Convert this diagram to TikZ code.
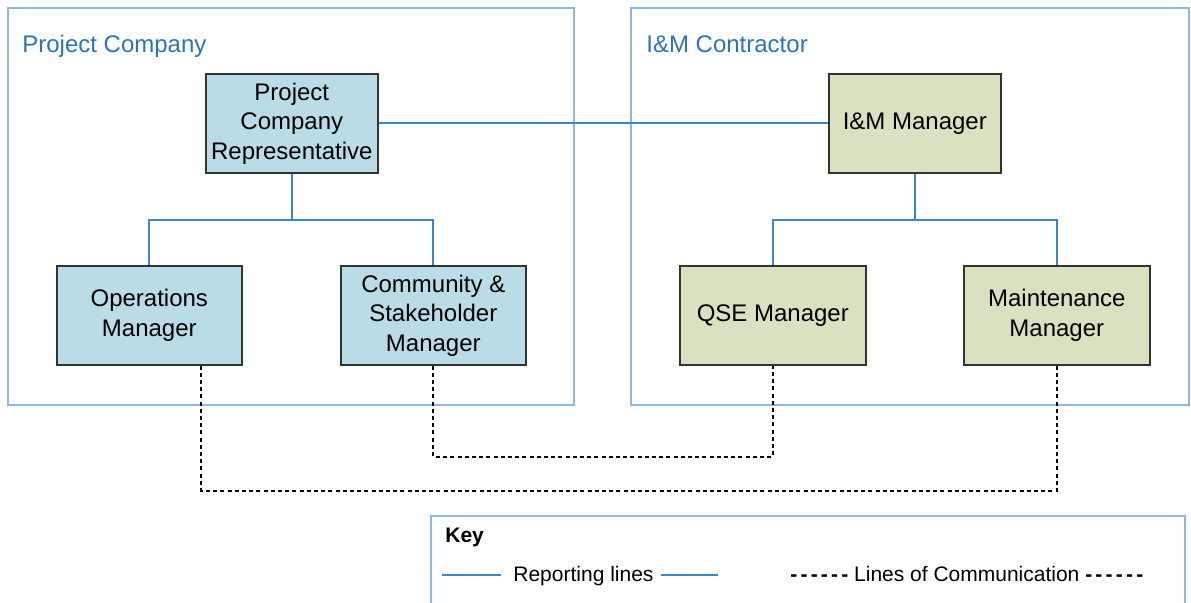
\documentclass[tikz,border=0pt]{standalone}
\usepackage{fontspec}
\setmainfont{Liberation Sans}
\definecolor{groupline}{HTML}{8FB8DE}
\definecolor{grouptext}{HTML}{2E74B5}
\definecolor{report}{HTML}{3A86C8}
\definecolor{pcfill}{HTML}{B9DCE6}
\definecolor{imfill}{HTML}{D8E2C0}
\definecolor{boxline}{HTML}{333333}
% a run of hyphens kept apart so they are not joined into dashes
\newcommand\hyphenrun{\textbf{-\kern1.6pt-\kern1.6pt-\kern1.6pt-\kern1.6pt-\kern1.6pt-}}
\tikzset{
  group/.style={draw=groupline, line width=0.6pt},
  grouptitle/.style={anchor=base west, text=grouptext, inner sep=0pt, font=\fontsize{12}{14.75}\selectfont},
  role/.style={draw=boxline, line width=0.8pt, anchor=north west, inner sep=0pt,
    align=center, font=\fontsize{12}{14.75}\selectfont},
  pcrole/.style={role, fill=pcfill},
  imrole/.style={role, fill=imfill},
  keytext/.style={anchor=base west, inner sep=0pt, font=\fontsize{10.5}{13}\selectfont},
  reporting/.style={draw=report, line width=1pt},
  communication/.style={draw=black, line width=1pt, dash pattern=on 2pt off 1.6pt},
}
\begin{document}
\begin{tikzpicture}[x=0.5pt, y=-0.5pt]
  \clip (0,0) rectangle (1191,602);
  \fill[white] (0,0) rectangle (1191,602);

  % organisation groups
  \draw[group] (8,8) rectangle (574,405);
  \draw[group] (631,8) rectangle (1189,405);
  \node[grouptitle] (pctitle) at (22,52) {Project Company};
  \node[grouptitle] (imtitle) at (646,52) {I\&M Contractor};

  % roles
  \node[pcrole, minimum width=86pt, minimum height=49.5pt] (pcr) at (205,73)
    {Project\\Company\\Representative};
  \node[pcrole, minimum width=92.5pt, minimum height=49.5pt] (ops) at (56,265)
    {Operations\\Manager};
  \node[pcrole, minimum width=92.5pt, minimum height=49.5pt] (csm) at (340,265)
    {Community \&\\Stakeholder\\Manager};
  \node[imrole, minimum width=86pt, minimum height=49.5pt] (imm) at (828,73)
    {I\&M Manager};
  \node[imrole, minimum width=93pt, minimum height=49.5pt] (qse) at (679,265)
    {QSE Manager};
  \node[imrole, minimum width=93pt, minimum height=49.5pt] (mnt) at (963,265)
    {Maintenance\\Manager};

  % reporting lines
  \draw[reporting] (pcr.east) -- (imm.west);
  \draw[reporting] (pcr.south) -- ++(0,46) -| (ops.north);
  \draw[reporting] (pcr.south) ++(0,46) -| (csm.north);
  \draw[reporting] (imm.south) -- ++(0,46) -| (qse.north);
  \draw[reporting] (imm.south) ++(0,46) -| (mnt.north);

  % lines of communication
  \coordinate (opsout) at ([xshift=26pt]ops.south);
  \draw[communication] (csm.south) -- ++(0,91) -| (qse.south);
  \draw[communication] (opsout) -- ++(0,125) -| (mnt.south);

  % key
  \draw[group] (431,516) rectangle (1185,640);
  \node[keytext, font=\bfseries\fontsize{10.5}{13}\selectfont] (keytitle) at (445,542) {Key};
  \node[keytext] (keyrep) at (513,581) {Reporting lines};
  \coordinate (repa) at (442,575);
  \coordinate (repb) at (718,575);
  \draw[reporting] (repa) -- ([xshift=-6pt]keyrep.west |- repa);
  \draw[reporting] ([xshift=3.5pt]keyrep.east |- repb) -- (repb);
  \node[keytext] (keycom) at (790,581)
    {\hyphenrun{} Lines of Communication \hyphenrun};
\end{tikzpicture}
\end{document}
